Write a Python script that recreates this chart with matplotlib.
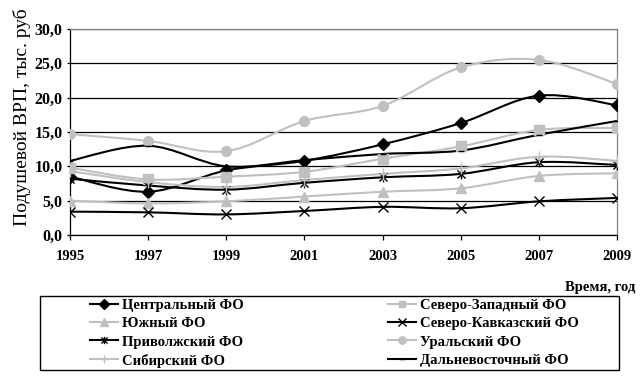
import numpy as np
import matplotlib
matplotlib.use("Agg")
from matplotlib import pyplot as plt
from matplotlib.path import Path
from matplotlib.patches import PathPatch, Rectangle
from matplotlib.lines import Line2D
from matplotlib.ticker import FuncFormatter, MultipleLocator

plt.rcParams['font.family'] = ['Liberation Serif', 'DejaVu Serif']
plt.rcParams['font.weight'] = 'bold'
plt.rcParams['font.size'] = 10.5

years = [1995, 1997, 1999, 2001, 2003, 2005, 2007, 2009]

names = ["Центральный ФО", "Северо-Западный ФО", "Южный ФО", "Северо-Кавказский ФО",
         "Приволжский ФО", "Уральский ФО", "Сибирский ФО", "Дальневосточный ФО"]

central = [8.5, 6.3, 9.4, 10.8, 13.2, 16.3, 20.3, 18.9]
northwest = [9.8, 8.1, 8.5, 9.2, 11.1, 12.9, 15.3, 15.6]
south = [5.0, 4.6, 4.9, 5.6, 6.3, 6.8, 8.6, 9.0]
ncaucasus = [3.4, 3.3, 3.0, 3.5, 4.1, 3.9, 4.9, 5.4]
volga = [8.2, 7.2, 6.6, 7.6, 8.4, 8.9, 10.6, 10.2]
ural = [14.7, 13.7, 12.2, 16.6, 18.8, 24.4, 25.5, 22.0]
siberia = [9.3, 7.7, 7.0, 8.0, 8.9, 9.7, 11.4, 10.8]
fareast = [10.8, 13.0, 10.0, 10.9, 11.8, 12.3, 14.6, 16.6]

series = [central, northwest, south, ncaucasus, volga, ural, siberia, fareast]

BLACK = "#000000"
GREY = "#c0c0c0"

# asterisk marker like in Excel (x with a vertical bar)
ast = Path([(-1, -1), (1, 1), (-1, 1), (1, -1), (0, -1.2), (0, 1.2)],
           [Path.MOVETO, Path.LINETO, Path.MOVETO, Path.LINETO, Path.MOVETO, Path.LINETO])

styles = [
    dict(color=BLACK, marker="D", ms=6.5),
    dict(color=GREY, marker="s", ms=6.5),
    dict(color=GREY, marker="^", ms=7),
    dict(color=BLACK, marker="x", ms=7),
    dict(color=BLACK, marker=ast, ms=7),
    dict(color=GREY, marker="o", ms=7),
    dict(color=GREY, marker="+", ms=8),
    dict(color=BLACK, marker="_", ms=5),
]


def smooth_path(xs, ys):
    # Excel-like smoothed line: cubic Bezier segments through the points
    pts = np.column_stack([xs, ys]).astype(float)
    n = len(pts)
    verts = [pts[0]]
    codes = [Path.MOVETO]
    for i in range(n - 1):
        p0 = pts[i - 1] if i > 0 else pts[i]
        p1, p2 = pts[i], pts[i + 1]
        p3 = pts[i + 2] if i + 2 < n else pts[i + 1]
        verts += [p1 + (p2 - p0) / 6, p2 - (p3 - p1) / 6, p2]
        codes += [Path.CURVE4] * 3
    return Path(verts, codes)


fig = plt.figure(figsize=(6.43, 3.76), dpi=100)
ax = fig.add_axes([70 / 643, 1 - 235 / 376, 547 / 643, 206 / 376])

for vals, st in zip(series, styles):
    ax.add_patch(PathPatch(smooth_path(years, vals), fill=False,
                           edgecolor=st["color"], lw=1.5, zorder=3))
    ax.plot(years, vals, linestyle="none", marker=st["marker"], ms=st["ms"],
            color=st["color"], mec=st["color"], mew=1.0, zorder=4)

ax.set_xlim(1995, 2009)
ax.set_ylim(0, 30)
ax.set_xticks(years)
ax.yaxis.set_major_locator(MultipleLocator(5))
ax.yaxis.set_major_formatter(FuncFormatter(lambda v, p: f"{v:.1f}".replace(".", ",")))
ax.grid(axis="y", color="black", lw=0.9, zorder=1)
ax.tick_params(axis="x", direction="out", length=3.6, pad=7, width=0.9, labelsize=10.5)
ax.tick_params(axis="y", direction="out", length=2.5, pad=3, width=0.9, labelsize=11.5)
ax.spines["top"].set_color("#808080")
ax.spines["right"].set_color("#808080")
for s in ax.spines.values():
    s.set_linewidth(0.9)

ax.set_ylabel("Подушевой ВРП, тыс. руб", fontsize=14)
ax.yaxis.set_label_coords(-0.072, 0.573)
fig.text(635 / 643, 1 - 287 / 376, "Время, год", ha="right", va="center")

# legend frame
fig.patches.append(Rectangle((40 / 643, 1 - 370 / 376), 579 / 643, 74 / 376,
                             transform=fig.transFigure, fill=False,
                             edgecolor="black", lw=1.0))

handles = [Line2D([], [], color=st["color"], lw=1.5, marker=st["marker"],
                  ms=st["ms"] * 0.75, mew=1.0) for st in styles]
order = [0, 2, 4, 6, 1, 3, 5, 7]
fig.legend([handles[i] for i in order], [names[i] for i in order],
           ncol=2, loc="upper left", bbox_to_anchor=(90 / 643, 1 - 299 / 376),
           frameon=False, handlelength=1.9, handletextpad=0.28,
           labelspacing=0.34, columnspacing=9.9, borderpad=0, borderaxespad=0)

fig.savefig("out.png", dpi=100)
